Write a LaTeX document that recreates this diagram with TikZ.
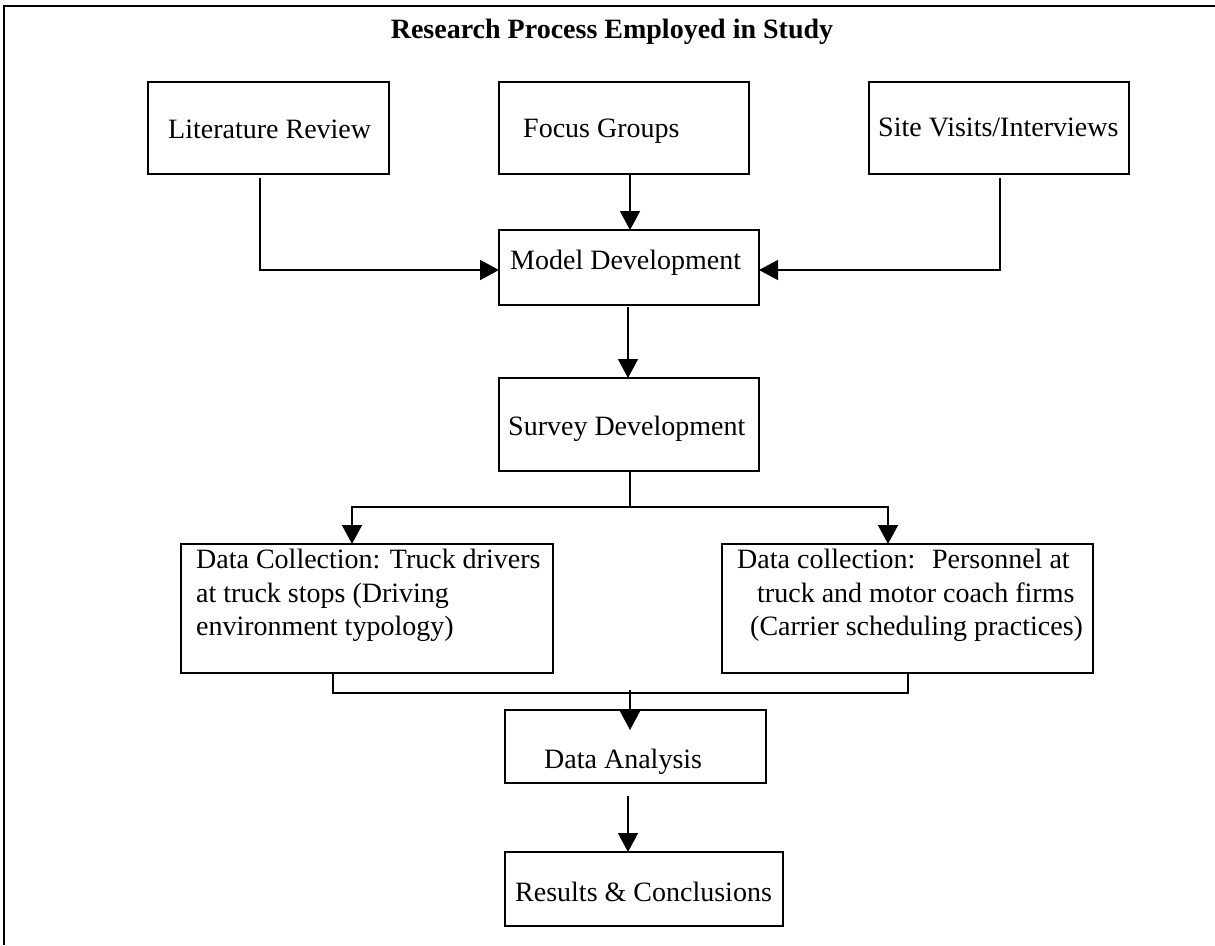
\documentclass[tikz,border=0pt]{standalone}
\usepackage{fontspec}
\setmainfont{Liberation Serif}
\usetikzlibrary{arrows.meta}
\begin{document}
\begin{tikzpicture}[x=1pt,y=-1pt,
  box/.style={draw, line width=1.5pt, rectangle, inner sep=0pt, outer sep=0pt, anchor=north west},
  lbl/.style={anchor=base west, inner sep=0pt, font=\fontsize{28}{33.5}\selectfont},
  conn/.style={line width=1.5pt},
  arr/.style={conn, -{Triangle[length=19pt,width=20pt]}},
]
\useasboundingbox (0,0) rectangle (1215,945);
\fill[white] (0,0) rectangle (1215,945);

% page frame
\draw[line width=1.5pt] (4,945) -- (4,6) -- (1215,6);

% heading
\node[anchor=base, inner sep=0pt, font=\bfseries\fontsize{28}{33}\selectfont] (title) at (612,38) {Research Process Employed in Study};

% boxes
\node[box, minimum width=241pt, minimum height=92pt] (lit) at (148,82) {};
\node[box, minimum width=250pt, minimum height=92pt] (focus) at (499,82) {};
\node[box, minimum width=260pt, minimum height=92pt] (site) at (869,82) {};
\node[box, minimum width=260pt, minimum height=75pt] (model) at (499,230) {};
\node[box, minimum width=260pt, minimum height=93pt] (survey) at (499,378) {};
\node[box, minimum width=372pt, minimum height=129pt] (dcl) at (181,544) {};
\node[box, minimum width=371pt, minimum height=129pt] (dcr) at (722,544) {};
\node[box, minimum width=261pt, minimum height=73pt] (da) at (505,710) {};
\node[box, minimum width=278pt, minimum height=74pt] (res) at (505,852) {};

% box texts
\node[lbl] (litT) at (168,138) {Literature Review};
\node[lbl] (focusT) at (523,137) {Focus Groups};
\node[lbl] (siteT) at (878,136) {Site Visits/Interviews};
\node[lbl] (modelT) at (510,269) {Model Development};
\node[lbl] (surveyT) at (508,435) {Survey Development};
\node[lbl] (dclA) at (196,568) {Data Collection: Truck drivers};
\node[lbl] (dclB) at (196,602) {at truck stops (Driving};
\node[lbl] (dclC) at (196,635) {environment typology)};
\node[lbl] (dcrA) at (737,568) {Data collection:\hspace{0.6em}Personnel at};
\node[lbl] (dcrB) at (757,602) {truck and motor coach firms};
\node[lbl] (dcrC) at (750,635) {(Carrier scheduling practices)};
\node[lbl] (daT) at (544,768) {Data Analysis};
\node[lbl] (resT) at (515,901) {Results \& Conclusions};

% inputs to model development
\draw[arr] ([xshift=-8.5pt,yshift=-4pt]lit.south) |- ([yshift=-2.5pt]model.west);
\draw[arr] ([xshift=6pt]focus.south) -- ([xshift=1pt]model.north);
\draw[arr] ([xshift=1pt,yshift=-4pt]site.south) |- ([yshift=-2.5pt]model.east);

% model -> survey
\draw[arr] ([xshift=-1pt,yshift=-2pt]model.south) -- ([xshift=-1pt]survey.north);

% survey -> both data collection boxes
\draw[conn] ([xshift=1pt]survey.south) -- ++(0,36) coordinate (split);
\draw[arr, line join=miter] (split) -| ([xshift=-15pt]dcl.north);
\draw[arr, line join=miter] (split) -| ([xshift=-19.5pt]dcr.north);

% both data collection boxes -> data analysis (tip runs into the box)
\draw[conn, line join=miter] ([xshift=-34pt]dcl.south) -- ++(0,20) coordinate (merge) -| ([xshift=0.5pt]dcr.south);
\draw[arr] ([xshift=-5.5pt,yshift=3pt]da.north |- merge) -- ([xshift=-5.5pt,yshift=-20pt]da.north);

% data analysis -> results
\draw[arr] ([xshift=-7.5pt,yshift=-13pt]da.south) -- ([xshift=-16pt]res.north);
\end{tikzpicture}
\end{document}
